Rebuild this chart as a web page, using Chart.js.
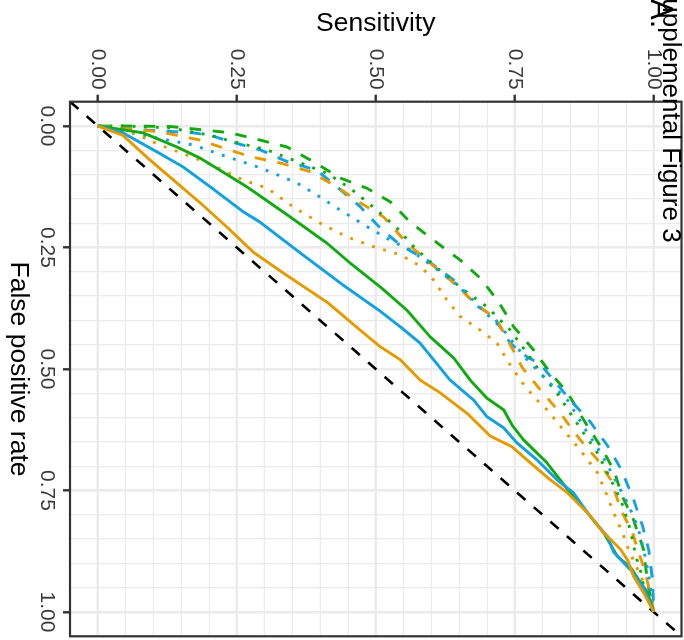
<!DOCTYPE html>
<html>
<head>
<meta charset="utf-8">
<script src="https://cdn.jsdelivr.net/npm/chart.js@4.4.0/dist/chart.umd.min.js"></script>
<style>
  html, body { margin: 0; padding: 0; background: #fff; overflow: hidden; }
  /* the figure is drawn upright and then turned a quarter turn clockwise */
  #wrap { position: absolute; left: 0; top: 0; width: 640px; height: 684px;
          transform-origin: 0 0; transform: translate(684px, 0) rotate(90deg); }
</style>
</head>
<body>
<div id="wrap"><canvas id="roc" width="640" height="684"></canvas></div>
<script>
const FONT = "'Liberation Sans', Arial, Helvetica, sans-serif";

const majorTicks = [0, 0.25, 0.5, 0.75, 1];
const minorTicks = [0.05, 0.1, 0.15, 0.2, 0.3, 0.35, 0.4, 0.45, 0.55, 0.6, 0.65, 0.7, 0.8, 0.85, 0.9, 0.95];

// ROC curves: false positive rate / sensitivity
const orangeSolidFpr = [0, 0.019, 0.070, 0.117, 0.163, 0.214, 0.259, 0.302, 0.364, 0.420, 0.454, 0.481, 0.523, 0.549, 0.591, 0.638, 0.660, 0.693, 0.728, 0.755, 0.796, 0.837, 0.872, 0.893, 0.927, 0.961, 1];
const orangeSolidSens = [0, 0.045, 0.094, 0.142, 0.189, 0.238, 0.279, 0.333, 0.414, 0.472, 0.508, 0.544, 0.580, 0.616, 0.664, 0.706, 0.745, 0.778, 0.814, 0.845, 0.881, 0.910, 0.941, 0.953, 0.964, 0.982, 1];

const blueSolidFpr = [0, 0.014, 0.053, 0.084, 0.125, 0.176, 0.198, 0.261, 0.327, 0.381, 0.413, 0.447, 0.481, 0.523, 0.564, 0.598, 0.621, 0.652, 0.687, 0.728, 0.755, 0.804, 0.845, 0.877, 0.914, 0.949, 1];
const blueSolidSens = [0, 0.045, 0.106, 0.153, 0.202, 0.261, 0.292, 0.364, 0.441, 0.508, 0.544, 0.580, 0.604, 0.634, 0.676, 0.700, 0.730, 0.754, 0.790, 0.826, 0.856, 0.886, 0.917, 0.928, 0.959, 0.982, 1];

const greenSolidFpr = [0, 0.014, 0.043, 0.066, 0.091, 0.125, 0.148, 0.187, 0.241, 0.282, 0.331, 0.379, 0.434, 0.477, 0.523, 0.560, 0.584, 0.615, 0.646, 0.693, 0.755, 0.796, 0.837, 0.886, 0.909, 0.961, 1];
const greenSolidSens = [0, 0.081, 0.142, 0.184, 0.220, 0.268, 0.297, 0.346, 0.412, 0.454, 0.508, 0.556, 0.598, 0.640, 0.670, 0.700, 0.730, 0.745, 0.766, 0.808, 0.850, 0.881, 0.910, 0.935, 0.959, 0.989, 1];

const orangeDotFpr = [0, 0.014, 0.039, 0.078, 0.111, 0.128, 0.166, 0.200, 0.228, 0.248, 0.265, 0.288, 0.317, 0.358, 0.392, 0.420, 0.447, 0.481, 0.523, 0.557, 0.584, 0.626, 0.667, 0.714, 0.763, 0.796, 0.837, 0.872, 0.927, 0.975, 1];
const orangeDotSens = [0, 0.063, 0.112, 0.202, 0.261, 0.305, 0.351, 0.400, 0.448, 0.495, 0.544, 0.580, 0.604, 0.628, 0.652, 0.688, 0.718, 0.736, 0.760, 0.784, 0.808, 0.838, 0.868, 0.899, 0.917, 0.928, 0.944, 0.955, 0.977, 0.995, 1];

const blueDotFpr = [0, 0.019, 0.039, 0.063, 0.086, 0.117, 0.142, 0.173, 0.207, 0.235, 0.255, 0.290, 0.331, 0.374, 0.420, 0.477, 0.523, 0.564, 0.619, 0.673, 0.722, 0.776, 0.824, 0.872, 0.924, 0.965, 1];
const blueDotSens = [0, 0.081, 0.171, 0.232, 0.292, 0.358, 0.394, 0.436, 0.484, 0.526, 0.562, 0.604, 0.652, 0.688, 0.730, 0.769, 0.808, 0.845, 0.874, 0.905, 0.928, 0.953, 0.971, 0.982, 0.991, 0.996, 1];

const greenDotFpr = [0, 0, 0.004, 0.019, 0.032, 0.049, 0.073, 0.097, 0.128, 0.173, 0.210, 0.248, 0.292, 0.337, 0.372, 0.420, 0.467, 0.516, 0.549, 0.591, 0.632, 0.673, 0.728, 0.770, 0.811, 0.852, 0.886, 0.918, 0.948, 1];
const greenDotSens = [0, 0.052, 0.130, 0.202, 0.243, 0.304, 0.358, 0.412, 0.454, 0.502, 0.538, 0.568, 0.610, 0.658, 0.700, 0.742, 0.772, 0.802, 0.826, 0.850, 0.874, 0.899, 0.923, 0.941, 0.953, 0.962, 0.968, 0.977, 0.982, 1];

const orangeDashFpr = [0, 0.012, 0.029, 0.043, 0.063, 0.076, 0.094, 0.125, 0.158, 0.187, 0.241, 0.282, 0.323, 0.362, 0.399, 0.457, 0.498, 0.543, 0.591, 0.646, 0.687, 0.728, 0.790, 0.837, 0.872, 0.907, 0.948, 1];
const orangeDashSens = [0, 0.112, 0.184, 0.220, 0.274, 0.328, 0.382, 0.430, 0.472, 0.514, 0.556, 0.598, 0.640, 0.676, 0.718, 0.745, 0.764, 0.796, 0.832, 0.868, 0.899, 0.923, 0.941, 0.962, 0.971, 0.982, 0.991, 1];

const blueDashFpr = [0, 0.008, 0.014, 0.019, 0.032, 0.049, 0.073, 0.091, 0.125, 0.166, 0.210, 0.245, 0.276, 0.317, 0.368, 0.392, 0.447, 0.475, 0.490, 0.564, 0.609, 0.658, 0.708, 0.763, 0.823, 0.872, 0.934, 1];
const blueDashSens = [0, 0.081, 0.171, 0.202, 0.238, 0.292, 0.340, 0.394, 0.430, 0.472, 0.508, 0.544, 0.592, 0.640, 0.679, 0.712, 0.742, 0.772, 0.796, 0.850, 0.886, 0.917, 0.942, 0.962, 0.980, 0.991, 0.998, 1];

const greenDashFpr = [0, 0, 0.001, 0.008, 0.014, 0.029, 0.043, 0.073, 0.107, 0.128, 0.156, 0.198, 0.235, 0.276, 0.313, 0.362, 0.413, 0.461, 0.508, 0.549, 0.605, 0.660, 0.708, 0.763, 0.811, 0.872, 0.940, 1];
const greenDashSens = [0, 0.052, 0.130, 0.189, 0.238, 0.292, 0.340, 0.387, 0.436, 0.484, 0.526, 0.562, 0.604, 0.652, 0.688, 0.721, 0.748, 0.784, 0.814, 0.845, 0.874, 0.905, 0.928, 0.944, 0.964, 0.982, 0.989, 1];

// chance line, runs corner to corner of the panel
const chanceFpr = [-0.05, 1.05];
const chanceSens = [-0.05, 1.05];

const ORANGE = '#E69A00';
const BLUE = '#12A2E2';
const GREEN = '#12AA12';
const LW = 2.9;
const DASH = [11.5, 11.5];
const DOT = [2.9, 8.7];

const pts = (xs, ys) => xs.map((x, i) => ({ x: x, y: ys[i] }));
const isMajor = v => majorTicks.some(m => Math.abs(m - v) < 1e-9);
const allTicks = majorTicks.concat(minorTicks).sort((a, b) => a - b);

const curve = (xs, ys, color, dash) => ({
    data: pts(xs, ys),
    borderColor: color,
    borderWidth: LW,
    borderDash: dash,
    borderCapStyle: 'butt',
    borderJoinStyle: 'round',
    showLine: true,
    pointRadius: 0,
    tension: 0,
    fill: false
});

const axis = (pos, title, titlePad) => ({
    type: 'linear',
    position: pos,
    min: -0.05,
    max: 1.05,
    afterBuildTicks: s => { s.ticks = allTicks.map(v => ({ value: v })); },
    afterFit: s => {
        if (pos === 'left') { s.width = 101.7; s.paddingTop = 0; s.paddingBottom = 0; }
        else { s.height = 70; s.paddingLeft = 0; s.paddingRight = 0; }
    },
    ticks: {
        autoSkip: false,
        maxRotation: 0,
        minRotation: 0,
        padding: pos === 'left' ? 5 : 4,
        color: '#3A3A3A',
        font: { family: FONT, size: 21 },
        callback: v => isMajor(v) ? v.toFixed(2) : ''
    },
    grid: {
        color: '#EBEBEB',
        lineWidth: c => isMajor(c.tick.value) ? 2.6 : 1.3,
        tickColor: c => isMajor(c.tick.value) ? '#333333' : 'rgba(0,0,0,0)',
        tickLength: 7,
        tickWidth: 2.4
    },
    border: { display: false },
    title: {
        display: true,
        text: title,
        color: '#000',
        font: { family: FONT, size: 26.5 },
        padding: titlePad
    }
});

const panelBorder = {
    id: 'panelBorder',
    afterDatasetsDraw(chart) {
        const a = chart.chartArea, c = chart.ctx;
        c.save();
        c.strokeStyle = '#333333';
        c.lineWidth = 2.2;
        c.strokeRect(a.left, a.top, a.right - a.left, a.bottom - a.top);
        c.restore();
    }
};

const figureLabels = {
    id: 'figureLabels',
    afterDraw(chart) {
        const c = chart.ctx;
        c.save();
        c.fillStyle = '#000';
        c.textBaseline = 'alphabetic';
        c.font = '26px ' + FONT;
        c.fillText('Supplemental Figure 3', -19, 21);
        c.font = '31px ' + FONT;
        c.fillText('A.', -1, 33);
        c.restore();
    }
};

new Chart(document.getElementById('roc'), {
    type: 'scatter',
    data: {
        datasets: [
            curve(orangeSolidFpr, orangeSolidSens, ORANGE, []),
            curve(blueSolidFpr, blueSolidSens, BLUE, []),
            curve(greenSolidFpr, greenSolidSens, GREEN, []),
            curve(orangeDotFpr, orangeDotSens, ORANGE, DOT),
            curve(blueDotFpr, blueDotSens, BLUE, DOT),
            curve(greenDotFpr, greenDotSens, GREEN, DOT),
            curve(orangeDashFpr, orangeDashSens, ORANGE, DASH),
            curve(blueDashFpr, blueDashSens, BLUE, DASH),
            curve(greenDashFpr, greenDashSens, GREEN, DASH),
            Object.assign(curve(chanceFpr, chanceSens, '#000000', [11, 11]), { borderWidth: 2.6, clip: 0 })
        ]
    },
    plugins: [panelBorder, figureLabels],
    options: {
        responsive: false,
        animation: false,
        layout: { padding: { left: 0, right: 3.7, top: 2.5, bottom: 0 } },
        plugins: { legend: { display: false }, tooltip: { enabled: false } },
        scales: {
            x: axis('bottom', 'False positive rate', { top: 0, bottom: 2 }),
            y: axis('left', 'Sensitivity', { top: 7.6, bottom: 0 })
        }
    }
});
</script>
</body>
</html>
